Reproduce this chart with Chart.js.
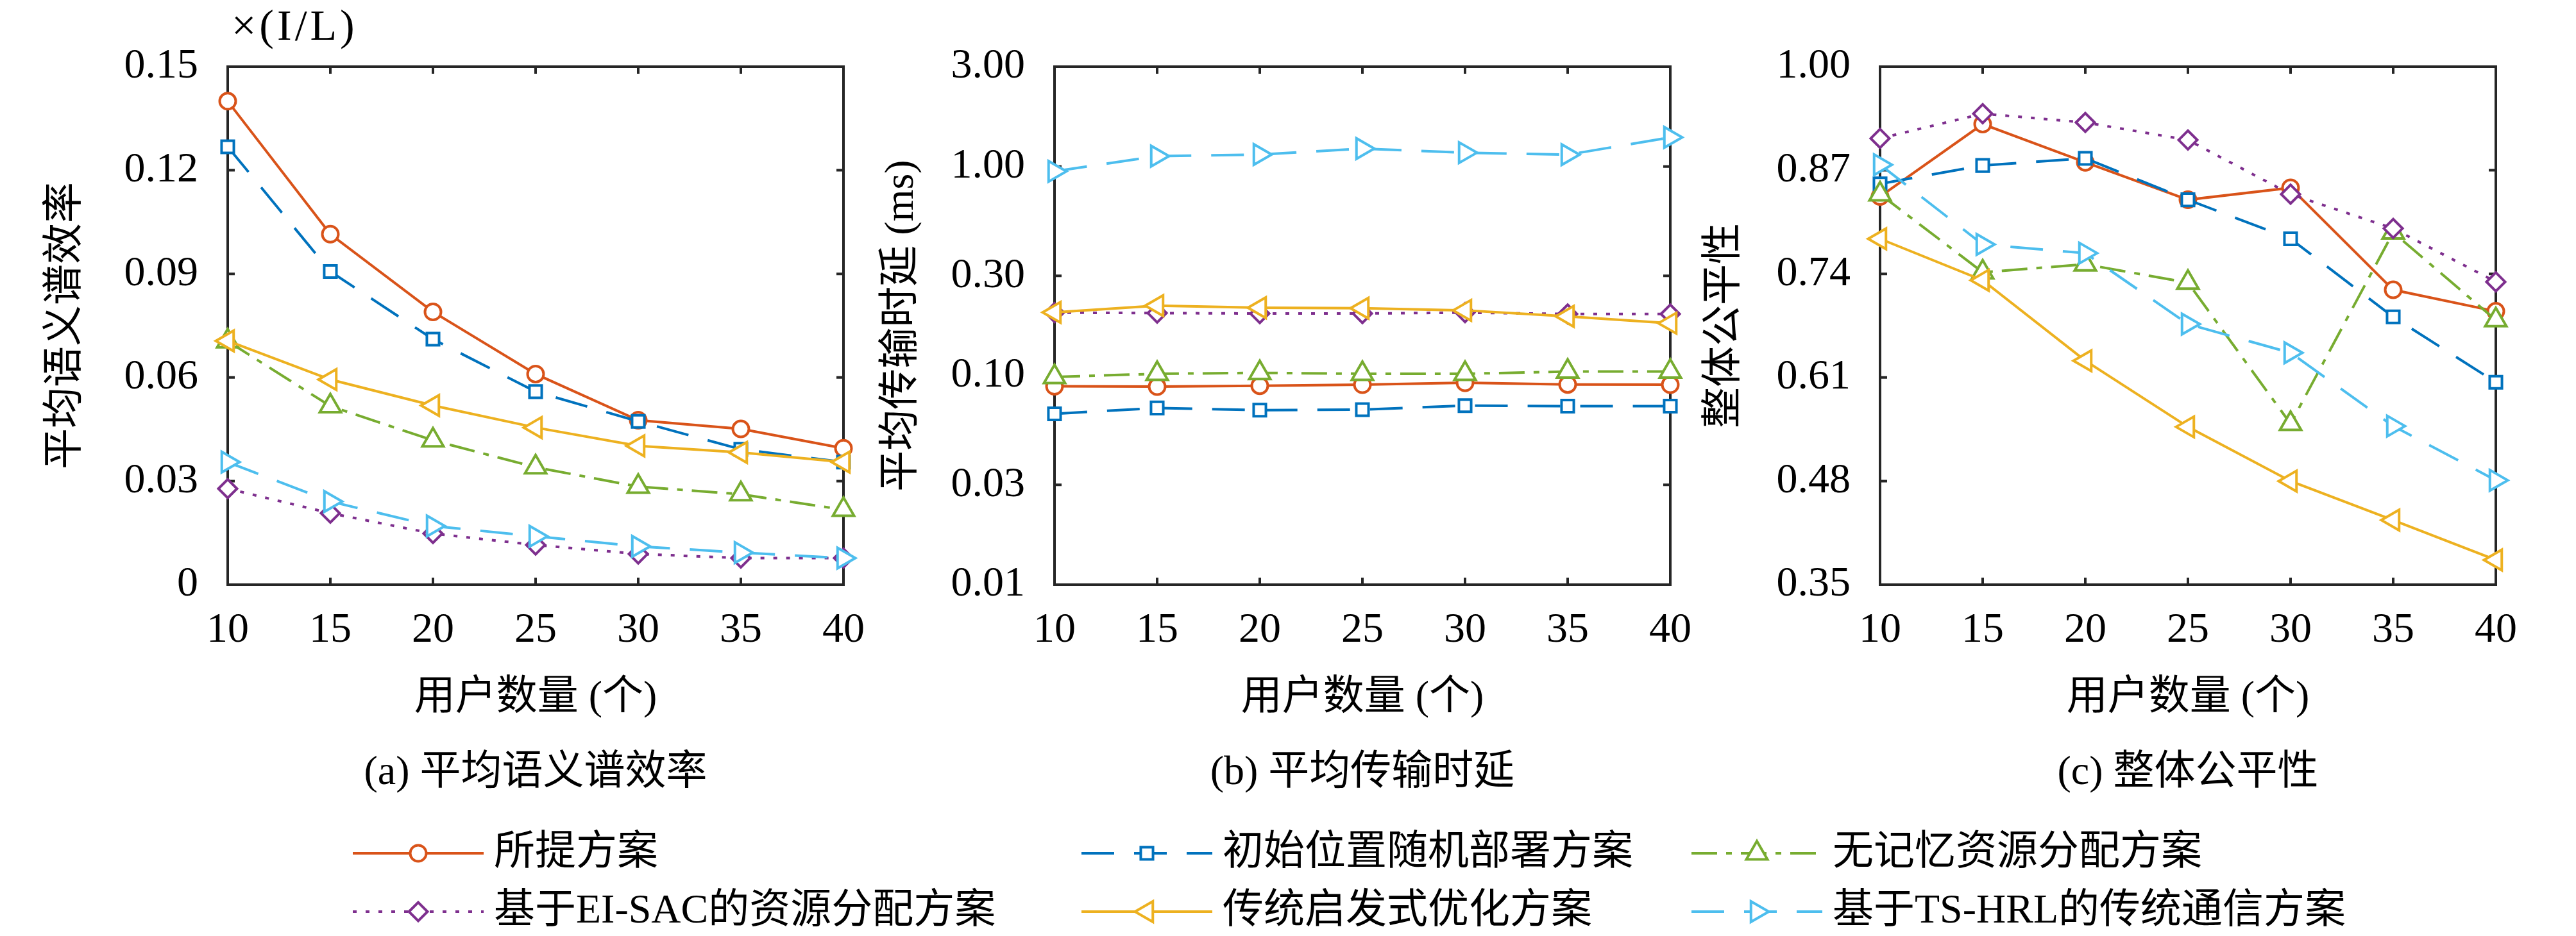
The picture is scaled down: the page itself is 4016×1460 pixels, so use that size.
<!DOCTYPE html>
<html lang="zh-CN">
<head>
<meta charset="utf-8">
<script src="https://cdn.jsdelivr.net/npm/chart.js@4.4.1/dist/chart.umd.min.js"></script>
<style>
html,body{margin:0;padding:0;background:#fff;}
body{width:4016px;height:1460px;position:relative;overflow:hidden;}
canvas{position:absolute;top:0;}
</style>
</head>
<body>
<canvas id="ca" width="1380" height="1290" style="left:0px"></canvas>
<canvas id="cb" width="1380" height="1290" style="left:1289px"></canvas>
<canvas id="cc" width="1380" height="1290" style="left:2576px"></canvas>
<canvas id="cl" width="4016" height="220" style="left:0px;top:1240px"></canvas>
<script>
// ---------- data ----------
const users = ['10', '15', '20', '25', '30', '35', '40'];
const seriesNames = ['所提方案', '初始位置随机部署方案', '无记忆资源分配方案',
  '基于EI-SAC的资源分配方案', '传统启发式优化方案', '基于TS-HRL的传统通信方案'];

// (a) 平均语义谱效率 (×(I/L))
const effProposed = [0.140, 0.1015, 0.079, 0.061, 0.0476, 0.0451, 0.0395];
const effRandom   = [0.1268, 0.0907, 0.0711, 0.0559, 0.0473, 0.0392, 0.0355];
const effMemless  = [0.0705, 0.0517, 0.0418, 0.0340, 0.0284, 0.0262, 0.0217];
const effEISAC    = [0.0278, 0.0207, 0.0148, 0.0115, 0.0089, 0.0077, 0.0077];
const effHeur     = [0.0706, 0.0594, 0.0519, 0.0455, 0.0402, 0.0383, 0.0355];
const effTSHRL    = [0.0355, 0.0241, 0.0170, 0.0140, 0.0111, 0.0093, 0.0077];

// (b) 平均传输时延 (ms)
const delayProposed = [0.0889, 0.0885, 0.0894, 0.0904, 0.0924, 0.0907, 0.0904];
const delayRandom   = [0.0656, 0.0700, 0.0683, 0.0687, 0.0718, 0.0714, 0.0714];
const delayMemless  = [0.0985, 0.1020, 0.1030, 0.1020, 0.1020, 0.1045, 0.1045];
const delayEISAC    = [0.200, 0.199, 0.198, 0.198, 0.200, 0.197, 0.197];
const delayHeur     = [0.2006, 0.216, 0.211, 0.210, 0.205, 0.192, 0.178];
const delayTSHRL    = [0.947, 1.12, 1.14, 1.217, 1.164, 1.138, 1.377];

// (c) 整体公平性
const fairProposed = [0.837, 0.928, 0.880, 0.833, 0.848, 0.720, 0.693];
const fairRandom   = [0.853, 0.876, 0.885, 0.833, 0.784, 0.686, 0.604];
const fairMemless  = [0.840, 0.742, 0.752, 0.729, 0.552, 0.792, 0.682];
const fairEISAC    = [0.910, 0.941, 0.930, 0.908, 0.840, 0.797, 0.730];
const fairHeur     = [0.784, 0.732, 0.631, 0.548, 0.480, 0.431, 0.381];
const fairTSHRL    = [0.877, 0.777, 0.766, 0.677, 0.641, 0.549, 0.481];

// tick values and labels
const effTicks = [0, 0.03, 0.06, 0.09, 0.12, 0.15];
const effTickLabels = ['0', '0.03', '0.06', '0.09', '0.12', '0.15'];
const delayTicks = [0.01, 0.03, 0.1, 0.3, 1, 3];
const delayTickLabels = ['0.01', '0.03', '0.10', '0.30', '1.00', '3.00'];
const fairTicks = [0.35, 0.48, 0.61, 0.74, 0.87, 1.00];
const fairTickLabels = ['0.35', '0.48', '0.61', '0.74', '0.87', '1.00'];

// ---------- styles ----------
const seriesColors = ['#D95319', '#0072BD', '#77AC30', '#7E2F8E', '#EDB120', '#4DBEEE'];
const seriesDash = [[], [51, 31], [40, 14, 9, 14], [6, 14], [], [51, 31]];
const seriesMarker = ['circle', 'rect', 'triangle', 'rectRot', 'triangle', 'triangle'];
const seriesRotation = [0, 0, 0, 0, -90, 90];
const seriesRadius = [12.5, 13.5, 19, 14.5, 18.5, 18.5];

const FONT = "'Liberation Serif', 'Noto Sans CJK SC', serif";
Chart.defaults.font.family = FONT;
Chart.defaults.color = '#000';

function makeDatasets(list) {
  return list.map((vals, i) => ({
    label: seriesNames[i],
    data: vals,
    borderColor: seriesColors[i],
    backgroundColor: '#fff',
    borderWidth: 4,
    borderDash: seriesDash[i],
    pointStyle: seriesMarker[i],
    pointRotation: seriesRotation[i],
    pointRadius: seriesRadius[i],
    pointHoverRadius: seriesRadius[i],
    pointBorderWidth: 4,
    pointBackgroundColor: '#fff',
    pointBorderColor: seriesColors[i],
    tension: 0,
    fill: false,
    clip: false,
    order: 6 - i
  }));
}

const framePlugin = {
  id: 'frame',
  beforeDatasetsDraw(chart) {
    const {ctx, chartArea: a, scales} = chart;
    const x = scales.x, y = scales.y;
    const L = 11;
    ctx.save();
    ctx.strokeStyle = '#262626';
    ctx.lineWidth = 4;
    ctx.setLineDash([]);
    ctx.beginPath();
    x.ticks.forEach((t, i) => {
      const px = x.getPixelForTick(i);
      ctx.moveTo(px, a.bottom); ctx.lineTo(px, a.bottom - L);
      ctx.moveTo(px, a.top); ctx.lineTo(px, a.top + L);
    });
    y.ticks.forEach((t, i) => {
      const py = y.getPixelForTick(i);
      ctx.moveTo(a.left, py); ctx.lineTo(a.left + L, py);
      ctx.moveTo(a.right, py); ctx.lineTo(a.right - L, py);
    });
    ctx.stroke();
    ctx.strokeRect(a.left, a.top, a.right - a.left, a.bottom - a.top);
    ctx.restore();
  }
};

const unitPlugin = {
  id: 'unitLabel',
  afterDraw(chart) {
    const ctx = chart.ctx;
    ctx.save();
    ctx.fillStyle = '#000';
    ctx.font = '68px ' + FONT;
    try { ctx.letterSpacing = '5px'; } catch (e) {}
    ctx.textAlign = 'left';
    ctx.textBaseline = 'middle';
    ctx.fillText('×(I/L)', chart.chartArea.left + 6, 44);
    ctx.restore();
  }
};

function xScale(caption) {
  return {
    type: 'category',
    offset: false,
    grid: {display: false, drawTicks: false},
    border: {display: false},
    ticks: {autoSkip: false, maxRotation: 0, minRotation: 0, padding: 32, color: '#000', font: {size: 66}},
    title: {display: true, text: ['用户数量 (个)', caption], color: '#000',
      font: {size: 64, lineHeight: 1.828}, padding: {top: 0, bottom: 25}},
    afterFit: s => { s.height = 378; }
  };
}

function yScale(type, min, max, tickVals, tickLabels, title, titlePad) {
  return {
    type: type,
    min: min,
    max: max,
    grid: {display: false, drawTicks: false},
    border: {display: false},
    afterBuildTicks: s => { s.ticks = tickVals.map(v => ({value: v})); },
    ticks: {padding: 46, color: '#000', font: {size: 66}, autoSkip: false,
      callback: (v, i) => tickLabels[i]},
    title: {display: true, text: title, color: '#000', font: {size: 64}, padding: {top: titlePad, bottom: 0}},
    afterFit: s => { s.width = 355; }
  };
}

function makePanel(id, datasets, yOpts, caption, extraPlugins, rightPad) {
  return new Chart(document.getElementById(id), {
    type: 'line',
    data: {labels: users, datasets: datasets},
    options: {
      responsive: false,
      animation: false,
      events: [],
      layout: {padding: {left: 0, right: rightPad, top: 104, bottom: 0}},
      plugins: {legend: {display: false}, tooltip: {enabled: false}, title: {display: false}},
      scales: {x: xScale(caption), y: yOpts}
    },
    plugins: [framePlugin].concat(extraPlugins)
  });
}

makePanel('ca',
  makeDatasets([effProposed, effRandom, effMemless, effEISAC, effHeur, effTSHRL]),
  yScale('linear', 0, 0.15, effTicks, effTickLabels, '平均语义谱效率', 64.6),
  '(a) 平均语义谱效率', [unitPlugin], 57);

makePanel('cb',
  makeDatasets([delayProposed, delayRandom, delayMemless, delayEISAC, delayHeur, delayTSHRL]),
  yScale('logarithmic', 0.01, 3, delayTicks, delayTickLabels, '平均传输时延 (ms)', 78.6),
  '(b) 平均传输时延', [], 57);

makePanel('cc',
  makeDatasets([fairProposed, fairRandom, fairMemless, fairEISAC, fairHeur, fairTSHRL]),
  yScale('linear', 0.35, 1.0, fairTicks, fairTickLabels, '整体公平性', 74.6),
  '(c) 整体公平性', [], 57);

// ---------- legend ----------
function drawMarker(ctx, style, rotation, radius, x, y) {
  if (Chart.helpers && Chart.helpers.drawPoint) {
    Chart.helpers.drawPoint(ctx, {pointStyle: style, rotation: rotation, radius: radius, borderWidth: 4}, x, y);
    return;
  }
  ctx.beginPath();
  ctx.arc(x, y, radius, 0, Math.PI * 2);
  ctx.fill(); ctx.stroke();
}

const legendPlugin = {
  id: 'gridLegend',
  afterDraw(chart) {
    const ctx = chart.ctx;
    const cols = [550, 1686, 2637];
    const rows = [91, 182];
    const lineLen = 204;
    chart.data.datasets.forEach((ds, i) => {
      const x0 = cols[i % 3], cy = rows[Math.floor(i / 3)];
      ctx.save();
      ctx.strokeStyle = ds.borderColor;
      ctx.lineWidth = 4;
      ctx.setLineDash(ds.borderDash);
      ctx.beginPath();
      ctx.moveTo(x0, cy); ctx.lineTo(x0 + lineLen, cy);
      ctx.stroke();
      ctx.setLineDash([]);
      ctx.fillStyle = '#fff';
      drawMarker(ctx, ds.pointStyle, ds.pointRotation, ds.pointRadius, x0 + lineLen / 2, cy);
      ctx.fillStyle = '#000';
      ctx.font = '64px ' + FONT;
      ctx.textAlign = 'left';
      ctx.textBaseline = 'middle';
      ctx.fillText(ds.label, x0 + lineLen + 16, cy);
      ctx.restore();
    });
  }
};

new Chart(document.getElementById('cl'), {
  type: 'line',
  data: {labels: users, datasets: makeDatasets([[], [], [], [], [], []])},
  options: {
    responsive: false,
    animation: false,
    events: [],
    plugins: {legend: {display: false}, tooltip: {enabled: false}},
    scales: {x: {display: false}, y: {display: false}}
  },
  plugins: [legendPlugin]
});
</script>
</body>
</html>
